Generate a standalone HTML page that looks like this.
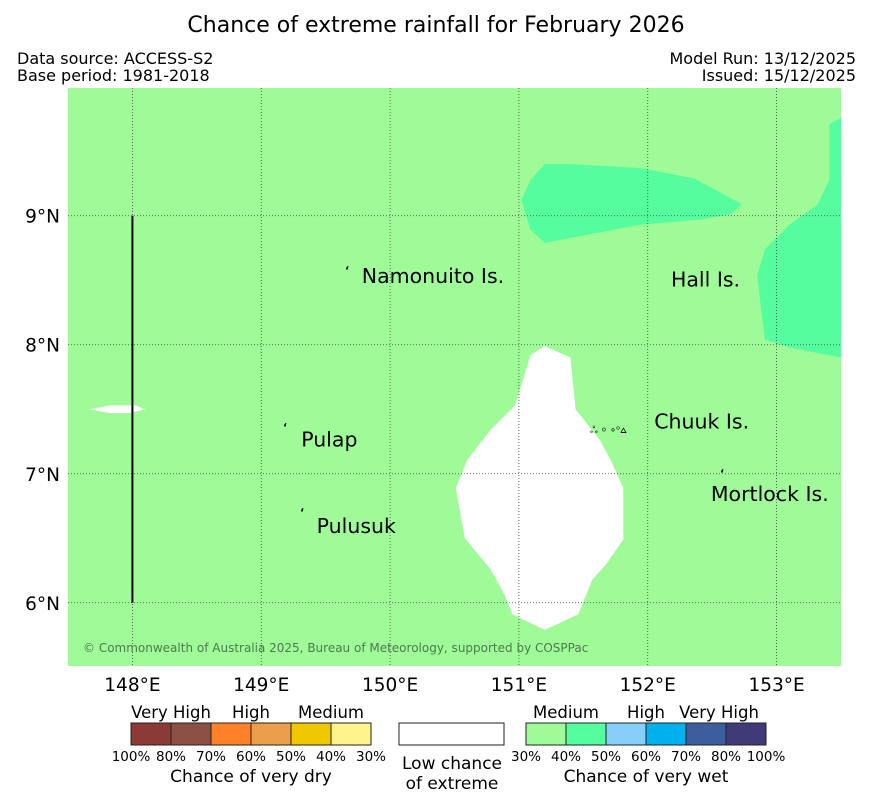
<!DOCTYPE html>
<html><head><meta charset="utf-8"><style>
body{margin:0;background:#fff;}
svg{display:block;font-family:"DejaVu Sans","Liberation Sans",sans-serif;}
</style></head><body>
<svg id="chart" width="873" height="804" xmlns="http://www.w3.org/2000/svg">
<text x="436" y="32" text-anchor="middle" font-size="22">Chance of extreme rainfall for February 2026</text>
<text x="17" y="64" font-size="16">Data source: ACCESS-S2</text>
<text x="17" y="81" font-size="16">Base period: 1981-2018</text>
<text x="856" y="64" font-size="16" text-anchor="end">Model Run: 13/12/2025</text>
<text x="856" y="81" font-size="16" text-anchor="end">Issued: 15/12/2025</text>
<g id="map"></g>
<g id="legend"></g>
</svg>
<script>
const lonTicks=[148,149,150,151,152,153];
const latTicks=[6,7,8,9];
const whiteLon=[151.20,151.40,151.44,151.63,151.72,151.81,151.81,151.67,151.57,151.46,151.20,150.95,150.89,150.78,150.58,150.51,150.60,150.78,150.97,151.09];
const whiteLat=[7.99,7.90,7.50,7.26,7.09,6.89,6.49,6.29,6.18,5.91,5.79,5.91,6.06,6.26,6.50,6.89,7.11,7.34,7.53,7.92];
const sliverLon=[147.66,147.83,148.02,148.10,147.98,147.83];
const sliverLat=[7.50,7.53,7.53,7.50,7.47,7.47];
const tealTopLon=[151.02,151.09,151.20,151.40,151.94,152.36,152.73,152.64,152.40,151.94,151.20,151.09];
const tealTopLat=[9.12,9.28,9.40,9.40,9.37,9.29,9.09,9.01,8.97,8.93,8.79,8.89];
const tealRightLon=[153.5,153.41,153.41,153.32,153.10,152.91,152.85,152.88,152.91,153.10,153.5];
const tealRightLat=[9.76,9.71,9.28,9.09,8.93,8.74,8.54,8.27,8.04,7.98,7.90];
const placeNames=["Namonuito Is.","Hall Is.","Pulap","Chuuk Is.","Pulusuk","Mortlock Is."];
const placeLon=[149.78,152.18,149.31,152.05,149.43,152.49];
const placeLat=[8.48,8.45,7.21,7.35,6.54,6.79];
const dryColors=["#8b3a36","#8b5040","#ff8127","#ec9e4b","#f0c800","#fff48c"];
const wetColors=["#9ffb98","#56fd9f","#87cefa","#00b1ee","#3a5f9c","#3e3b78"];
const dryTicks=["100%","80%","70%","60%","50%","40%","30%"];
const wetTicks=["30%","40%","50%","60%","70%","80%","100%"];
const NS="http://www.w3.org/2000/svg";
const X0=68,X1=841,Y0=88,Y1=666,LON0=147.5,LON1=153.5,LAT0=5.51,LAT1=9.99;
const xs=l=>X0+(l-LON0)/(LON1-LON0)*(X1-X0);
const ys=l=>Y1-(l-LAT0)/(LAT1-LAT0)*(Y1-Y0);
function mk(t,a,p){const e=document.createElementNS(NS,t);for(const k in a)e.setAttribute(k,a[k]);p.appendChild(e);return e;}
const map=document.getElementById('map');
const bg=mk('rect',{x:X0,y:Y0,width:X1-X0,height:Y1-Y0,fill:'#9ffb98'},map);


function poly(lo,la,fill,name){const p=mk('polygon',{points:lo.map((v,i)=>xs(v)+','+ys(la[i])).join(' '),fill:fill},map);

}
poly(tealTopLon,tealTopLat,'#56fd9f','wet-40-region-north');
poly(tealRightLon,tealRightLat,'#56fd9f','wet-40-region-east');
poly(whiteLon,whiteLat,'#ffffff','low-chance-region-chuuk');
poly(sliverLon,sliverLat,'#ffffff','low-chance-region-west');
lonTicks.forEach(l=>{const g=mk('line',{x1:xs(l),x2:xs(l),y1:Y0,y2:Y1,stroke:'#444','stroke-width':0.8,'stroke-dasharray':'1,2'},map);


const t=mk('text',{x:xs(l),y:691,'text-anchor':'middle','font-size':18.5},map);t.textContent=l+'°E';

});
latTicks.forEach(l=>{const g=mk('line',{x1:X0,x2:X1,y1:ys(l),y2:ys(l),stroke:'#444','stroke-width':0.8,'stroke-dasharray':'1,2'},map);


const t=mk('text',{x:60,y:ys(l)+7,'text-anchor':'end','font-size':18.5},map);t.textContent=l+'°N';

});
const vl=mk('line',{x1:xs(148),x2:xs(148),y1:ys(9),y2:ys(6),stroke:'#000','stroke-width':2},map);


placeNames.forEach((n,i)=>{const t=mk('text',{x:xs(placeLon[i]),y:ys(placeLat[i]),'font-size':20.5},map);t.textContent=n;

});
[[345,274],[283,431],[300,516],[720,477]].forEach(p=>{const d=mk('text',{x:p[0],y:p[1],'font-size':11,'font-weight':'bold'},map);d.textContent='ʻ';

});
const ch=mk('text',{x:590,y:433,'font-size':10},map);ch.textContent='ஃ ⸰ ∘ᵒ⩟';


const cp=mk('text',{x:83,y:652,'font-size':12,fill:'#4d7a4d'},map);cp.textContent='© Commonwealth of Australia 2025, Bureau of Meteorology, supported by COSPPac';


const lg=document.getElementById('legend');
function bar(x0,cols,ticks,prefix){cols.forEach((c,i)=>{const r=mk('rect',{x:x0+i*40,y:723,width:40,height:22,fill:c,stroke:'#222','stroke-width':1},lg);

});
ticks.forEach((t,i)=>{const e=mk('text',{x:x0+i*40,y:761,'text-anchor':'middle','font-size':13.5},lg);e.textContent=t;

});}
bar(131,dryColors,dryTicks,'dry');
bar(526,wetColors,wetTicks,'wet');
function tx(x,y,s,t,name){const e=mk('text',{x:x,y:y,'text-anchor':'middle','font-size':s},lg);e.textContent=t;

}
tx(171,718,16.5,'Very High','dry-very-high');tx(251,718,16.5,'High','dry-high');tx(331,718,16.5,'Medium','dry-medium');
tx(566,718,16.5,'Medium','wet-medium');tx(646,718,16.5,'High','wet-high');tx(719,718,16.5,'Very High','wet-very-high');
tx(251,782,17,'Chance of very dry','dry-title');tx(646,782,17,'Chance of very wet','wet-title');
const lw=mk('rect',{x:399,y:723,width:105,height:22,fill:'#fff',stroke:'#222','stroke-width':1},lg);


tx(452,769,17,'Low chance','low-chance-label');tx(452,789,17,'of extreme','low-chance-label-2');
</script>
</body></html>
